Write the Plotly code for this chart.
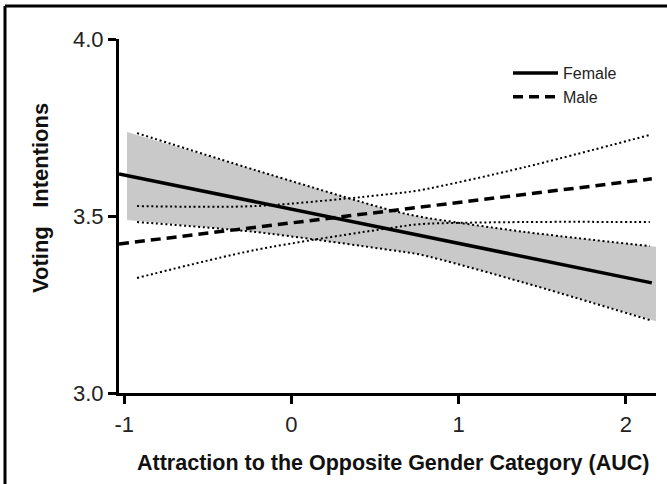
import plotly.graph_objects as go

# ---- data ----
fit_x = [-1.031, 2.155]
female_fit = [3.619, 3.311]
male_fit = [3.421, 3.605]

# confidence-band edge points (dotted lines)
ci_x = [-0.923, -0.218, 0.589, 0.77, 1.396, 2.143]
female_upper = [3.734, 3.630, 3.517, 3.498, 3.455, 3.415]
female_lower = [3.483, 3.455, 3.404, 3.391, 3.311, 3.206]
male_upper = [3.528, 3.528, 3.562, 3.573, 3.638, 3.729]
male_lower = [3.325, 3.404, 3.466, 3.477, 3.483, 3.483]

# grey shaded female band
band_x = [-0.983, -0.218, 0.589, 0.77, 1.396, 2.18]
band_upper = [3.737, 3.630, 3.517, 3.498, 3.455, 3.413]
band_lower = [3.489, 3.455, 3.404, 3.391, 3.311, 3.203]

x_ticks = [-1, 0, 1, 2]
y_ticks = [3.0, 3.5, 4.0]

FONT = "Liberation Sans, Arial, sans-serif"
dot = "2px,2.7px"
spl = dict(shape="spline", smoothing=0.8)

fig = go.Figure()

# shaded band
fig.add_trace(go.Scatter(x=band_x, y=band_lower, mode="lines",
                         line=dict(width=0, color="rgba(0,0,0,0)", **spl),
                         showlegend=False, hoverinfo="skip"))
fig.add_trace(go.Scatter(x=band_x, y=band_upper, mode="lines", fill="tonexty",
                         fillcolor="#c9c9c9",
                         line=dict(width=0, color="rgba(0,0,0,0)", **spl),
                         showlegend=False, hoverinfo="skip"))

# dotted CI edges
for ys in (female_upper, female_lower, male_upper, male_lower):
    fig.add_trace(go.Scatter(x=ci_x, y=ys, mode="lines",
                             line=dict(color="black", width=2, dash=dot, **spl),
                             showlegend=False, hoverinfo="skip"))

# fit lines
fig.add_trace(go.Scatter(x=fit_x, y=female_fit, mode="lines", name="Female",
                         line=dict(color="black", width=3.5)))
fig.add_trace(go.Scatter(x=fit_x, y=male_fit, mode="lines", name="Male",
                         line=dict(color="black", width=3.5, dash="10px,6px")))

L, T = 119, 39
W, H = 537, 354

fig.update_layout(
    width=667, height=484,
    margin=dict(l=L, r=667 - L - W, t=T, b=484 - T - H),
    paper_bgcolor="white", plot_bgcolor="white",
    font=dict(family=FONT, color="#222"),
    showlegend=True,
    legend=dict(x=(508 - L) / W, y=(393 - 56) / H, xanchor="left", yanchor="top",
                font=dict(size=16, color="#222"), bgcolor="rgba(0,0,0,0)",
                tracegroupgap=0, traceorder="normal", itemwidth=45),
    xaxis=dict(range=[-1.031, 2.18], tickvals=x_ticks, ticktext=[str(v) for v in x_ticks],
               showgrid=False, zeroline=False, showline=True, linecolor="black", linewidth=3,
               ticks="outside", ticklen=8, tickwidth=3, tickcolor="black",
               ticklabelstandoff=2,
               tickfont=dict(size=22, color="#222", family=FONT)),
    yaxis=dict(range=[3.0, 4.0], tickvals=y_ticks, tickformat=".1f",
               showgrid=False, zeroline=False, showline=True, linecolor="black", linewidth=3,
               ticks="outside", ticklen=8, tickwidth=3, tickcolor="black",
               tickfont=dict(size=22, color="#222", family=FONT)),
    annotations=[
        dict(text="<b>Attraction to the Opposite Gender Category (AUC)</b>",
             xref="paper", yref="paper", x=(393 - L) / W, y=(393 - 463) / H,
             xanchor="center", yanchor="middle", showarrow=False,
             font=dict(size=21.5, color="#111", family=FONT)),
        dict(text="<b>Voting&nbsp;&nbsp;&nbsp;Intentions</b>",
             xref="paper", yref="paper", x=(40 - L) / W, y=(393 - 198) / H,
             xanchor="center", yanchor="middle", showarrow=False, textangle=-90,
             font=dict(size=22, color="#111", family=FONT)),
    ],
    shapes=[
        dict(type="line", xref="paper", yref="paper",
             x0=(5 - L) / W, x1=(667 - L) / W, y0=(393 - 6) / H, y1=(393 - 6) / H,
             line=dict(color="black", width=3)),
        dict(type="line", xref="paper", yref="paper",
             x0=(5 - L) / W, x1=(5 - L) / W, y0=(393 - 6) / H, y1=(393 - 484) / H,
             line=dict(color="black", width=3)),
    ],
)

fig.write_html("out.html", config={"displayModeBar": False},
               post_script="document.body.style.margin='0';document.body.style.overflow='hidden';")
